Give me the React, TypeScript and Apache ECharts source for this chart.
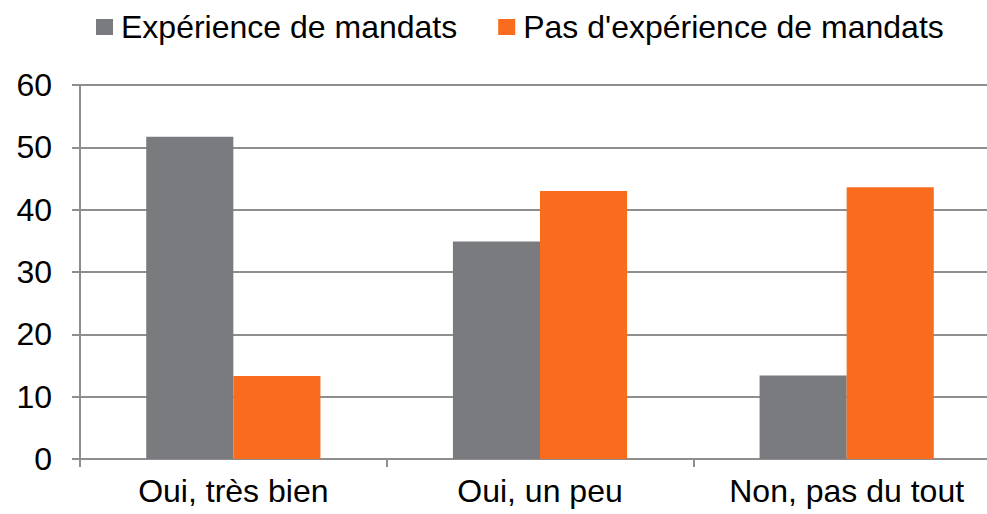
import React, { useEffect, useRef } from "react";
import * as echarts from "echarts";

const categories = ["Oui, très bien", "Oui, un peu", "Non, pas du tout"];
const seriesNames = ["Expérience de mandats", "Pas d'expérience de mandats"];
const experience = [51.7, 34.9, 13.4];
const noExperience = [13.3, 43.0, 43.6];
const yTicks = { min: 0, max: 60, interval: 10 };

const GRAY = "#7a7b7f";
const ORANGE = "#f96c1d";
const LINE = "#8e8e8e";
const FONT = "'Liberation Sans', Arial, sans-serif";

export default function App() {
  const ref = useRef<HTMLDivElement>(null);
  useEffect(() => {
    if (!ref.current) return;
    const chart = echarts.init(ref.current, undefined, { renderer: "svg" });
    chart.setOption({
      animation: false,
      backgroundColor: "#ffffff",
      textStyle: { fontFamily: FONT },
      legend: {
        left: 96,
        top: 11,
        padding: 0,
        itemWidth: 17,
        itemHeight: 16,
        itemGap: 41,
        icon: "rect",
        textStyle: { fontSize: 32, color: "#000", fontFamily: FONT, padding: [0, 0, 0, 3] },
        data: seriesNames,
      },
      grid: { left: 80, top: 85, width: 920, height: 374, containLabel: false },
      xAxis: {
        type: "category",
        data: categories,
        axisLine: { show: true, lineStyle: { color: LINE, width: 2 } },
        axisTick: { show: true, length: 8, alignWithLabel: false, lineStyle: { color: LINE, width: 2 } },
        axisLabel: { fontSize: 32, color: "#000", margin: 16, fontFamily: FONT, interval: 0 },
        splitLine: { show: false },
      },
      yAxis: {
        type: "value",
        min: yTicks.min,
        max: yTicks.max,
        interval: yTicks.interval,
        axisLine: { show: true, lineStyle: { color: LINE, width: 2 } },
        axisTick: { show: true, length: 8, lineStyle: { color: LINE, width: 2 } },
        axisLabel: { fontSize: 32, color: "#000", margin: 28, fontFamily: FONT },
        splitLine: { show: true, lineStyle: { color: LINE, width: 2 } },
      },
      series: [
        {
          name: seriesNames[0],
          type: "bar",
          data: experience,
          barWidth: "28.4%",
          barGap: "0%",
          itemStyle: { color: GRAY },
        },
        {
          name: seriesNames[1],
          type: "bar",
          data: noExperience,
          barWidth: "28.4%",
          barGap: "0%",
          itemStyle: { color: ORANGE },
        },
      ],
    });
    return () => chart.dispose();
  }, []);
  return (
    <div
      style={{ position: "absolute", left: 0, top: 0, width: 987, height: 514, overflow: "hidden" }}
    >
      <div ref={ref} style={{ width: 1000, height: 514 }} />
    </div>
  );
}
